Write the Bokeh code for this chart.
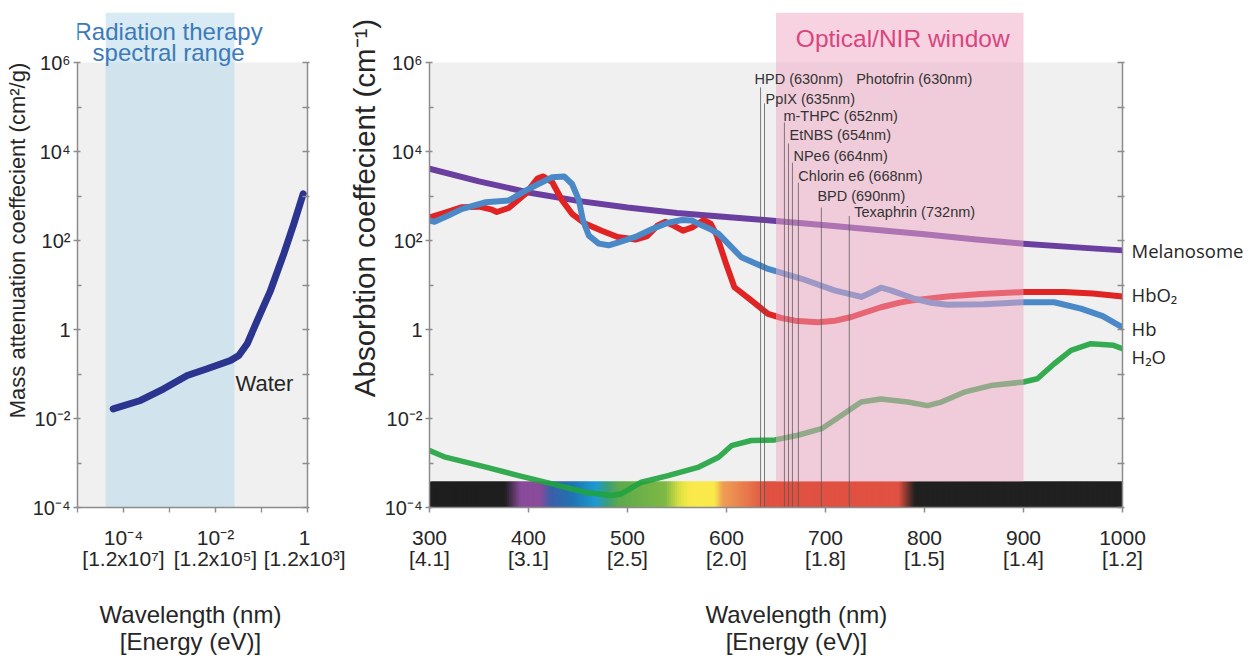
import json
import numpy as np
from bokeh.plotting import figure
from bokeh.models import Range1d, FixedTicker, CustomJSTickFormatter, LogAxis, LinearAxis, ColumnDataSource
from bokeh.layouts import row
from bokeh.embed import file_html
from bokeh.resources import INLINE
from bokeh.core.properties import value

# ---------------- data: left panel (water, mass attenuation) ----------------
water_wl = [5.97e-5, 2.34e-4, 7.5e-4, 2.43e-3, 6.6e-3, 0.0212, 0.0321, 0.0489,
            0.0807, 0.157, 0.305, 0.504, 0.807]
water_mu = [0.0165, 0.0254, 0.0465, 0.0925, 0.131, 0.201, 0.261, 0.478,
            1.59, 7.5, 50.2, 237, 1120]
rt_range = [4.1e-5, 0.0259]                     # radiation therapy spectral range (nm)
left_xticks = [1e-4, 1e-2, 1]
left_xlabels = ["10⁻⁴\n[1.2x10⁷]", "10⁻²\n[1.2x10⁵]", "1\n[1.2x10³]"]
left_xminor = [1e-5, 1e-3, 1e-1]
yticks = [1e-4, 1e-2, 1, 1e2, 1e4, 1e6]
ylabels = ["10⁻⁴", "10⁻²", "1", "10²", "10⁴", "10⁶"]
yminor = [1e-3, 1e-1, 10, 1e3, 1e5]
all_decades = [1e-4, 1e-3, 1e-2, 1e-1, 1, 10, 1e2, 1e3, 1e4, 1e5, 1e6]

# ---------------- data: right panel (absorption spectra) ----------------
mel_nm = [300, 350, 400, 450, 500, 550, 600, 650, 700, 750, 800, 850, 900, 950, 1000]
mel_mu = [4100, 2138, 1202, 776, 550, 417, 339, 275, 219, 174, 138, 107, 85, 71, 60]

hbo2_nm = [300, 315, 333, 350, 362, 368, 380, 397, 409, 415, 424, 434, 444, 457, 474,
           490, 508, 520, 530, 538, 547, 556, 566, 577, 584, 590, 600, 608, 625, 642,
           655, 669, 692, 710, 726, 756, 776, 790, 823, 857, 900, 941, 970, 1000]
hbo2_mu = [331, 417, 562, 575, 501, 437, 537, 1122, 2455, 2754, 2042, 794, 398, 240, 166,
           120, 105, 126, 214, 263, 214, 166, 200, 288, 240, 132, 28, 8.9, 4.5, 2.24,
           1.82, 1.58, 1.45, 1.58, 1.91, 3.16, 4.07, 4.57, 5.50, 6.31, 6.92, 6.92, 6.46, 5.50]

hb_nm = [300, 305, 318, 333, 357, 380, 397, 410, 424, 436, 444, 451, 455, 461, 471, 481,
         491, 508, 525, 541, 555, 565, 575, 585, 592, 605, 615, 630, 642, 676, 709, 736,
         745, 756, 766, 790, 807, 823, 860, 900, 931, 958, 980, 1000]
hb_mu = [282, 263, 355, 513, 724, 794, 1318, 1862, 2630, 2754, 1862, 794, 282, 129, 85, 78,
         91, 120, 182, 251, 288, 282, 219, 174, 141, 71, 42, 30, 23, 13.8, 7.6, 5.4,
         6.6, 8.7, 7.6, 4.9, 4.0, 3.6, 3.7, 4.1, 4.1, 2.95, 2.0, 1.12]

h2o_nm = [300, 316, 357, 390, 424, 457, 484, 494, 514, 541, 572, 592, 605, 625, 649, 672,
          696, 716, 736, 756, 783, 803, 817, 840, 867, 900, 914, 931, 948, 968, 991, 1000]
h2o_mu = [1.9e-3, 1.35e-3, 8.1e-4, 5.2e-4, 3.4e-4, 2.2e-4, 1.86e-4, 2.04e-4, 3.7e-4, 5.2e-4,
          8.1e-4, 1.35e-3, 2.45e-3, 3.2e-3, 3.3e-3, 4.2e-3, 5.9e-3, 1.17e-2, 2.34e-2, 2.75e-2,
          2.34e-2, 1.95e-2, 2.34e-2, 3.9e-2, 5.5e-2, 6.6e-2, 7.8e-2, 0.17, 0.34, 0.48, 0.44, 0.37]

nir_window = [650, 900]
right_xticks = [300, 400, 500, 600, 700, 800, 900, 1000]
right_xlabels = ["300\n[4.1]", "400\n[3.1]", "500\n[2.5]", "600\n[2.0]",
                 "700\n[1.8]", "800\n[1.5]", "900\n[1.4]", "1000\n[1.2]"]

drug_names = ["HPD (630nm)", "Photofrin (630nm)", "PpIX (635nm)", "m-THPC (652nm)",
              "EtNBS (654nm)", "NPe6 (664nm)", "Chlorin e6 (668nm)", "BPD (690nm)",
              "Texaphrin (732nm)"]
drug_line_nm = [634.4, 638.4, 658.5, 662.6, 666.6, 672.6, 695.8, 724.0]
drug_line_top = [10**5.44, 10**5.08, 10**4.65, 10**4.18, 10**3.75, 10**3.30, 10**2.74, 10**2.55]

series_names = ["Melanosome", "HbO₂", "Hb", "H₂O"]

# visible-spectrum colour bar stops
spec_nm = [300, 376, 392, 412, 422, 445, 468, 480, 492, 538, 552, 562, 588, 596, 622, 640, 774, 790, 1000]
spec_col = ["#1e1e1e", "#1e1e1e", "#8a4b9b", "#8a4b9b", "#3d5fa9", "#1f74b4", "#1e9bd2",
            "#3b9f78", "#5faa4c", "#7fb946", "#d9e143", "#f9e94a", "#f9e94a", "#ef9f55",
            "#e8764c", "#e05141", "#e05141", "#202020", "#202020"]

# ---------------- layout / style constants ----------------
FONT = "Liberation Sans"
YTOP = 10 ** (6 + 50 / 44.5)
BAR_TOP = 10 ** -3.415
AX_COL = "#8c8c8c"
BG = "#f0f0f0"
TXT = "#262626"
H = 658
TOP = 12
BOTTOM = H - TOP - 495


def log_formatter(vals, labs):
    code = ("const v=%s; const l=%s;"
            "for (let i=0;i<v.length;i++){ if (Math.abs(Math.log10(tick)-Math.log10(v[i]))<1e-6) return l[i]; }"
            "return '';") % (json.dumps(vals), json.dumps(labs, ensure_ascii=False))
    return CustomJSTickFormatter(code=code)


def const_formatter(text):
    return CustomJSTickFormatter(code="return %s;" % json.dumps(text, ensure_ascii=False))


def style_axis(ax, size="20px", font=FONT):
    ax.axis_line_color = AX_COL
    ax.axis_line_width = 1.5
    ax.major_tick_line_color = AX_COL
    ax.major_tick_line_width = 1.5
    ax.minor_tick_line_color = AX_COL
    ax.minor_tick_line_width = 1.3
    ax.major_label_text_font = font
    ax.major_label_text_font_size = size
    ax.major_label_text_color = TXT
    ax.major_label_text_line_height = 1.0


def text_axis(cls, tick, text, size, font=FONT, orientation="horizontal", standoff=0, line_height=1.0):
    """An axis that carries only a text label at one position (used for titles)."""
    ax = cls(ticker=FixedTicker(ticks=[tick], minor_ticks=[]), formatter=const_formatter(text))
    ax.axis_line_color = None
    ax.major_tick_line_color = None
    ax.minor_tick_line_color = None
    ax.major_tick_in = 0
    ax.major_tick_out = 0
    ax.major_label_text_font = font
    ax.major_label_text_font_size = size
    ax.major_label_text_color = TXT
    ax.major_label_text_line_height = line_height
    ax.major_label_standoff = standoff
    ax.major_label_orientation = orientation
    return ax


def base_fig(width, x_range, x_type, border_left, border_right):
    p = figure(width=width, height=H, x_axis_type=x_type, y_axis_type="log",
               x_range=x_range, y_range=Range1d(1e-4, YTOP), title=None,
               output_backend="svg", toolbar_location=None,
               min_border_left=border_left, min_border_right=border_right,
               min_border_top=TOP, min_border_bottom=BOTTOM)
    p.background_fill_color = "white"
    p.border_fill_color = "white"
    p.outline_line_color = None
    p.xgrid.visible = False
    p.ygrid.visible = False
    ya = p.yaxis[0]
    ya.ticker = FixedTicker(ticks=yticks, minor_ticks=yminor)
    ya.formatter = log_formatter(yticks, ylabels)
    ya.bounds = (1e-4, 1e6)
    ya.major_tick_out = 4
    ya.major_tick_in = 3
    ya.minor_tick_in = 4
    ya.minor_tick_out = 0
    ya.major_label_standoff = 3
    style_axis(ya, "20px")
    ra = LogAxis(ticker=FixedTicker(ticks=all_decades, minor_ticks=[]),
                 formatter=const_formatter(""), bounds=(1e-4, 1e6))
    ra.major_tick_in = 5
    ra.major_tick_out = 2
    ra.major_label_standoff = 0
    style_axis(ra)
    p.add_layout(ra, "right")
    return p


def bottom_ticks(ax):
    ax.major_tick_out = 5
    ax.major_tick_in = 0
    ax.minor_tick_out = 5
    ax.minor_tick_in = 0
    ax.major_label_standoff = 13
    style_axis(ax, "21px")
    ax.major_label_text_line_height = 0.92


# ======================= LEFT PANEL =======================
p1 = base_fig(345, Range1d(1e-5, 1), "log", 77, 38)
xa = p1.xaxis[0]
xa.ticker = FixedTicker(ticks=left_xticks, minor_ticks=left_xminor)
xa.formatter = log_formatter(left_xticks, left_xlabels)
bottom_ticks(xa)

p1.quad(left=[1e-5], right=[1], bottom=[1e-4], top=[1e6], fill_color=BG, line_color=None)
p1.quad(left=[rt_range[0]], right=[rt_range[1]], bottom=[1e-4], top=[YTOP],
        fill_color="#b8d8ea", fill_alpha=0.55, line_color=None)
p1.line(water_wl, water_mu, line_color="#2b3590", line_width=7, line_cap="round", line_join="round")
p1.text(x=[10 ** -1.565], y=[10 ** -1.21], text=["Water"], text_font=value(FONT),
        text_font_size="22px", text_color=TXT, text_baseline="middle", text_align="left")
p1.text(x=[10 ** -3.02, 10 ** -3.02], y=[10 ** 6.70, 10 ** 6.22],
        text=["Radiation therapy", "spectral range"], text_font=value(FONT),
        text_font_size="24px", text_color="#3d7ab8", text_baseline="middle", text_align="center")

p1.add_layout(text_axis(LogAxis, 10 ** 2.0, "Mass attenuation coeffecient (cm²/g)", "22px",
                        orientation="parallel", standoff=0), "left")
p1.add_layout(text_axis(LogAxis, 10 ** -2.543, "Wavelength (nm)\n[Energy (eV)]", "24px",
                        standoff=28), "below")

# ======================= RIGHT PANEL =======================
p2 = base_fig(907, Range1d(300, 1000), "linear", 82, 130)
xb = p2.xaxis[0]
xb.ticker = FixedTicker(ticks=right_xticks, minor_ticks=[])
xb.major_label_overrides = {t: l for t, l in zip(right_xticks, right_xlabels)}
bottom_ticks(xb)

p2.quad(left=[300], right=[1000], bottom=[1e-4], top=[1e6], fill_color=BG, line_color=None)

# spectrum colour bar
edges = np.arange(300, 1000, 2)
stops_rgb = np.array([[int(c[i:i + 2], 16) for i in (1, 3, 5)] for c in spec_col], dtype=float)
cols = []
for m in edges + 1.0:
    r, g, b = (np.interp(m, spec_nm, stops_rgb[:, k]) for k in range(3))
    cols.append("#%02x%02x%02x" % (int(r), int(g), int(b)))
bar_src = ColumnDataSource(dict(left=edges, right=np.minimum(edges + 4, 1000), color=cols))
p2.quad(left="left", right="right", bottom=1e-4, top=BAR_TOP, fill_color="color",
        line_color=None, source=bar_src)

p2.line(mel_nm, mel_mu, line_color="#6b3fa0", line_width=6, line_cap="round", line_join="round")
p2.line(h2o_nm, h2o_mu, line_color="#1fa33f", line_width=5.5, line_cap="round", line_join="round", line_alpha=0.9)
p2.line(hbo2_nm, hbo2_mu, line_color="#e02424", line_width=6, line_cap="round", line_join="round")
p2.line(hb_nm, hb_mu, line_color="#4a88c8", line_width=6, line_cap="round", line_join="round")

# optical / NIR window
p2.quad(left=[nir_window[0]], right=[nir_window[1]], bottom=[BAR_TOP], top=[YTOP],
        fill_color="#f0a8c4", fill_alpha=0.5, line_color=None)
p2.text(x=[778], y=[10 ** 6.54], text=["Optical/NIR window"], text_font=value(FONT),
        text_font_size="24.5px", text_color="#d9457f", text_baseline="middle", text_align="center")

# photosensitiser lines + labels
p2.segment(x0=drug_line_nm, y0=[1e-4] * len(drug_line_nm), x1=drug_line_nm, y1=drug_line_top,
           line_color="#555555", line_width=1, line_alpha=0.75)
drug_lx = [628.3, 731.0, 639.4, 657.5, 663.6, 667.6, 672.6, 691.8, 729.0]
drug_ly = [10**5.62, 10**5.62, 10**5.18, 10**4.79, 10**4.36, 10**3.91, 10**3.46, 10**3.01, 10**2.63]
p2.text(x=drug_lx, y=drug_ly, text=drug_names, text_font=value(FONT), text_font_size="14.5px",
        text_color="#333333", text_baseline="middle", text_align="left")

# series names (as labels of an extra right axis, outside the frame)
series_ly = [60, 6.2, 1.07, 0.25]
sa = LogAxis(ticker=FixedTicker(ticks=series_ly, minor_ticks=[]),
             formatter=log_formatter(series_ly, series_names))
sa.axis_line_color = None
sa.major_tick_line_color = None
sa.major_tick_in = 0
sa.major_tick_out = 0
sa.major_label_standoff = 7
sa.major_label_text_font = "Open Sans"
sa.major_label_text_font_size = "18.5px"
sa.major_label_text_color = TXT
p2.add_layout(sa, "right")

p2.add_layout(text_axis(LogAxis, 10 ** 2.73, "Absorbtion coeffecient (cm⁻¹)", "29.5px",
                        orientation="parallel", standoff=0), "left")
p2.add_layout(text_axis(LinearAxis, 670.6, "Wavelength (nm)\n[Energy (eV)]", "24px",
                        standoff=28), "below")

layout = row(p1, p2)
open("out.html", "w").write(file_html(layout, INLINE))
